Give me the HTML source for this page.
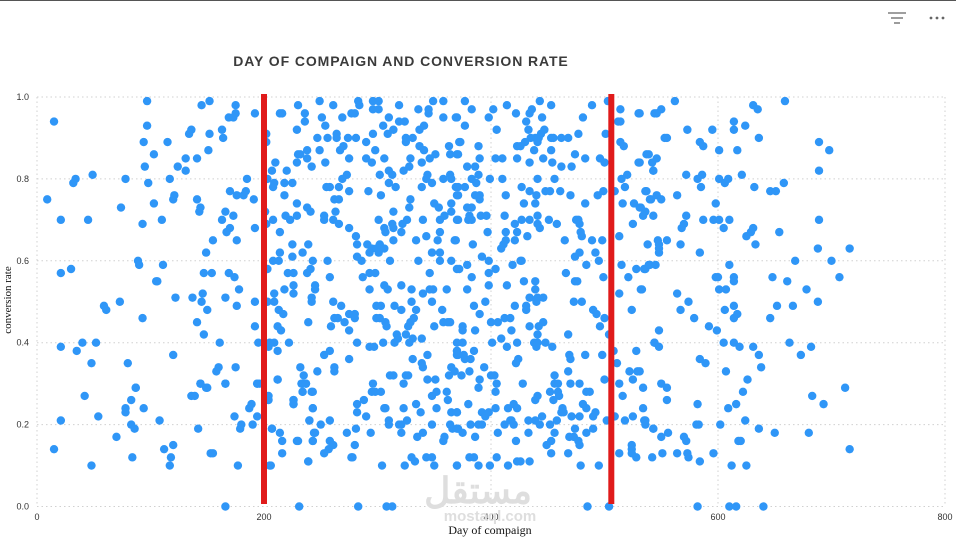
<!DOCTYPE html>
<html><head><meta charset="utf-8"><style>
body{margin:0;width:956px;height:537px;overflow:hidden;background:#fff;font-family:"Liberation Sans",sans-serif;}
svg{position:absolute;left:0;top:0}
</style></head><body>
<svg id="chart" width="956" height="537">
<line x1="0" y1="0.5" x2="956" y2="0.5" stroke="#555" stroke-width="1"/>
<g stroke="#666" stroke-width="1.3">
<line x1="888" y1="13" x2="906" y2="13"/><line x1="891" y1="18" x2="903" y2="18"/><line x1="894" y1="23" x2="900" y2="23"/></g>
<g fill="#666">
<circle cx="931" cy="18" r="1.4"/><circle cx="937" cy="18" r="1.4"/><circle cx="943" cy="18" r="1.4"/></g>
<text x="401" y="66" text-anchor="middle" font-family="Liberation Sans, sans-serif" font-weight="bold" font-size="14" letter-spacing="0.9" fill="#3b3b3b">DAY OF COMPAIGN AND CONVERSION RATE</text>
<g id="grid"></g>
<g id="axes"></g>
<g fill="#dedede">
<text x="478" y="503" text-anchor="middle" font-family="Liberation Sans, 'Noto Sans CJK SC', sans-serif" font-weight="bold" font-size="36">مستقل</text>
<text x="490" y="521" text-anchor="middle" font-size="15" font-weight="bold">mostaql.com</text></g>
<g id="dots"></g>
<g id="refs"></g>
<text x="490" y="534" text-anchor="middle" font-family="Liberation Serif, serif" font-size="12" fill="#111">Day of compaign</text>
<text transform="translate(11,300) rotate(-90)" text-anchor="middle" font-family="Liberation Serif, serif" font-size="11" fill="#111">conversion rate</text>
</svg>
<script>
const xTicks=[0,200,400,600,800];
const yTicks=[0.0,0.2,0.4,0.6,0.8,1.0];
const refDays=[200,506];
const scatterPoints=[
[230,0.98],[249,0.99],[261,0.98],[283,0.99],[284,0.98],[296,0.99],[301,0.99],[296,0.97],[301,0.97],[319,0.98],[336,0.97],[345,0.97],[349,0.99],[358,0.99],[214,0.96],[216,0.96],[236,0.96],[236,0.94],[251,0.95],[269,0.95],[277,0.96],[280,0.96],[254,0.93],[229,0.92],[310,0.95],[319,0.94],[324,0.94],[358,0.95],[345,0.96],[369,0.95],[305,0.93],[314,0.92],[309,0.91],[341,0.93],[337,0.92],[202,0.91],[202,0.89],[247,0.90],[256,0.90],[264,0.91],[264,0.90],[274,0.90],[281,0.90],[296,0.91],[290,0.89],[325,0.90],[325,0.89],[331,0.90],[337,0.88],[341,0.87],[363,0.88],[372,0.89],[230,0.86],[232,0.86],[238,0.87],[249,0.87],[267,0.87],[270,0.88],[298,0.87],[351,0.86],[364,0.86],[370,0.86],[238,0.85],[229,0.84],[254,0.84],[275,0.85],[290,0.85],[295,0.84],[306,0.85],[329,0.85],[339,0.84],[346,0.85],[210,0.84],[242,0.83],[207,0.82],[220,0.82],[328,0.83],[323,0.82],[310,0.82],[313,0.81],[302,0.81],[273,0.81],[269,0.80],[344,0.81],[343,0.80],[348,0.79],[358,0.80],[364,0.81],[365,0.80],[203,0.80],[209,0.79],[218,0.79],[225,0.79],[208,0.78],[310,0.79],[316,0.78],[339,0.78],[369,0.78],[255,0.78],[258,0.78],[266,0.78],[275,0.77],[292,0.77],[218,0.76],[303,0.76],[370,0.76],[262,0.75],[266,0.75],[329,0.75],[229,0.74],[238,0.73],[241,0.72],[328,0.73],[350,0.74],[354,0.73],[365,0.74],[359,0.71],[365,0.72],[263,0.72],[314,0.72],[201,0.72],[202,0.69],[219,0.71],[223,0.70],[229,0.71],[253,0.71],[253,0.70],[261,0.70],[266,0.69],[208,0.70],[301,0.70],[326,0.70],[340,0.70],[355,0.70],[370,0.70],[313,0.69],[314,0.68],[322,0.69],[306,0.68],[307,0.67],[275,0.68],[321,0.67],[355,0.67],[214,0.67],[281,0.66],[343,0.66],[334,0.65],[353,0.65],[314,0.65],[368,0.65],[282,0.64],[225,0.64],[239,0.64],[291,0.64],[295,0.63],[299,0.63],[302,0.64],[306,0.63],[293,0.62],[301,0.62],[234,0.62],[214,0.62],[225,0.61],[282,0.61],[348,0.62],[355,0.62],[208,0.60],[213,0.60],[243,0.60],[256,0.60],[286,0.60],[311,0.60],[336,0.60],[355,0.60],[365,0.60],[203,0.58],[221,0.57],[226,0.57],[238,0.57],[241,0.58],[258,0.56],[287,0.56],[293,0.57],[298,0.57],[346,0.57],[370,0.58],[226,0.54],[218,0.53],[226,0.52],[245,0.54],[245,0.53],[293,0.53],[306,0.54],[309,0.53],[321,0.54],[330,0.53],[340,0.52],[346,0.53],[349,0.53],[361,0.53],[209,0.52],[242,0.51],
[203,0.50],[209,0.50],[242,0.50],[261,0.50],[268,0.49],[299,0.49],[303,0.49],[315,0.49],[321,0.48],[330,0.50],[334,0.48],[348,0.50],[357,0.48],[213,0.48],[217,0.47],[262,0.46],[265,0.46],[259,0.44],[275,0.47],[280,0.47],[280,0.46],[271,0.45],[275,0.43],[239,0.45],[299,0.46],[302,0.46],[307,0.45],[308,0.44],[327,0.44],[329,0.45],[332,0.46],[350,0.44],[358,0.45],[362,0.45],[364,0.45],[212,0.44],[215,0.43],[317,0.42],[318,0.41],[325,0.42],[331,0.41],[328,0.40],[339,0.41],[315,0.40],[305,0.40],[282,0.40],[293,0.39],[297,0.39],[205,0.40],[209,0.40],[204,0.39],[212,0.38],[222,0.40],[253,0.37],[258,0.38],[275,0.36],[344,0.37],[331,0.36],[339,0.35],[340,0.34],[370,0.38],[370,0.37],[365,0.34],[368,0.33],[363,0.32],[232,0.34],[235,0.32],[247,0.33],[262,0.34],[262,0.33],[311,0.32],[314,0.32],[325,0.32],[327,0.32],[212,0.31],[233,0.30],[237,0.30],[296,0.30],[323,0.30],[344,0.31],[351,0.31],[234,0.28],[242,0.28],[295,0.28],[298,0.28],[303,0.28],[348,0.27],[352,0.28],[361,0.28],[362,0.26],[204,0.27],[202,0.26],[226,0.26],[226,0.25],[288,0.26],[282,0.25],[282,0.23],[243,0.24],[306,0.24],[307,0.24],[323,0.24],[334,0.25],[338,0.23],[352,0.24],[365,0.23],[370,0.23],[290,0.22],[240,0.21],[250,0.20],[258,0.21],[281,0.19],[310,0.21],[310,0.20],[319,0.20],[321,0.20],[326,0.21],[348,0.20],[364,0.20],[366,0.19],[370,0.19],[207,0.19],[214,0.18],[216,0.16],[216,0.13],[229,0.16],[243,0.16],[245,0.18],[258,0.16],[261,0.15],[257,0.14],[253,0.13],[273,0.18],[280,0.15],[294,0.18],[321,0.18],[335,0.17],[340,0.18],[359,0.17],[358,0.16],[277,0.12],[278,0.12],[239,0.11],[205,0.10],[304,0.10],[324,0.10],[330,0.12],[333,0.11],[343,0.12],[348,0.12],[350,0.10],[370,0.10],[231,0.0],[283,0.0],[308,0.0],[313,0.0],
[377,0.99],[383,0.97],[370,0.95],[377,0.93],[402,0.97],[398,0.95],[414,0.98],[422,0.96],[434,0.96],[436,0.97],[443,0.99],[453,0.98],[445,0.95],[431,0.94],[405,0.92],[433,0.92],[447,0.92],[444,0.91],[439,0.90],[442,0.90],[435,0.90],[430,0.89],[423,0.88],[426,0.88],[441,0.89],[453,0.90],[455,0.90],[462,0.90],[468,0.90],[477,0.91],[481,0.95],[489,0.98],[503,0.99],[501,0.91],[373,0.89],[389,0.88],[371,0.86],[438,0.87],[453,0.87],[474,0.86],[390,0.85],[404,0.85],[410,0.85],[423,0.85],[434,0.84],[446,0.85],[454,0.84],[462,0.83],[471,0.83],[483,0.85],[496,0.85],[500,0.84],[379,0.83],[386,0.83],[389,0.81],[387,0.79],[383,0.80],[399,0.80],[410,0.80],[441,0.80],[456,0.80],[371,0.78],[377,0.78],[371,0.76],[427,0.78],[434,0.77],[448,0.77],[452,0.77],[461,0.77],[470,0.76],[494,0.76],[499,0.77],[413,0.76],[440,0.76],[386,0.76],[390,0.75],[390,0.76],[429,0.74],[439,0.74],[483,0.74],[379,0.73],[383,0.73],[381,0.71],[383,0.70],[380,0.70],[371,0.70],[391,0.71],[396,0.71],[412,0.71],[427,0.70],[434,0.70],[441,0.71],[441,0.69],[443,0.68],[451,0.70],[458,0.69],[475,0.70],[477,0.70],[478,0.69],[421,0.69],[423,0.67],[413,0.67],[397,0.67],[432,0.66],[421,0.65],[413,0.65],[411,0.64],[409,0.63],[479,0.67],[480,0.66],[465,0.65],[489,0.65],[498,0.65],[369,0.65],[384,0.64],[478,0.62],[474,0.61],[492,0.62],[495,0.60],[484,0.59],[392,0.61],[398,0.60],[419,0.59],[426,0.60],[427,0.60],[379,0.59],[372,0.58],[383,0.56],[398,0.57],[404,0.58],[429,0.55],[439,0.55],[439,0.53],[466,0.57],[474,0.55],[476,0.55],[499,0.56],[398,0.54],[379,0.53],[414,0.54],[434,0.51],[441,0.51],[446,0.51],[473,0.50],[480,0.50],
[514,0.97],[512,0.94],[514,0.94],[530,0.96],[544,0.96],[514,0.89],[517,0.88],[537,0.86],[539,0.86],[530,0.84],[542,0.84],[520,0.81],[515,0.80],[543,0.82],[509,0.77],[518,0.78],[537,0.77],[541,0.75],[516,0.74],[526,0.74],[532,0.73],[536,0.72],[534,0.71],[543,0.71],[525,0.69],[513,0.66],[538,0.64],[515,0.59],[521,0.56],[528,0.58],[536,0.58],[540,0.59],[532,0.53],[513,0.52],
[385,0.49],[395,0.50],[421,0.49],[431,0.49],[431,0.48],[440,0.50],[390,0.47],[400,0.45],[406,0.45],[412,0.46],[417,0.46],[434,0.44],[442,0.44],[446,0.45],[490,0.48],[493,0.47],[500,0.46],[496,0.44],[375,0.44],[375,0.43],[386,0.43],[418,0.43],[441,0.42],[468,0.42],[504,0.42],[370,0.40],[375,0.40],[401,0.40],[409,0.41],[414,0.39],[423,0.40],[438,0.40],[441,0.40],[440,0.39],[448,0.40],[454,0.39],[370,0.38],[371,0.37],[376,0.37],[377,0.36],[385,0.38],[382,0.36],[424,0.36],[422,0.35],[394,0.34],[469,0.37],[470,0.36],[483,0.37],[498,0.37],[508,0.38],[511,0.35],[524,0.48],[528,0.38],[544,0.40],[381,0.33],[374,0.32],[400,0.32],[403,0.32],[468,0.33],[456,0.32],[522,0.33],[529,0.33],[525,0.31],[390,0.31],[405,0.30],[428,0.30],[456,0.30],[459,0.30],[470,0.30],[478,0.30],[500,0.31],[513,0.30],[534,0.29],[389,0.29],[404,0.28],[452,0.28],[459,0.28],[460,0.27],[484,0.28],[487,0.28],[516,0.27],[441,0.27],[439,0.26],[380,0.25],[481,0.25],[484,0.24],[455,0.26],[463,0.24],[462,0.23],[464,0.23],[392,0.23],[395,0.22],[398,0.23],[404,0.24],[415,0.24],[420,0.25],[423,0.24],[492,0.23],[490,0.22],[471,0.22],[478,0.22],[445,0.22],[534,0.24],[525,0.22],[536,0.21],[536,0.20],[518,0.21],[502,0.21],[509,0.22],[370,0.23],[433,0.21],[439,0.21],[443,0.20],[458,0.21],[418,0.21],[412,0.20],[420,0.20],[417,0.21],[382,0.20],[389,0.20],[392,0.20],[371,0.19],[375,0.18],[406,0.18],[433,0.18],[452,0.20],[456,0.18],[474,0.19],[469,0.17],[473,0.17],[477,0.16],[478,0.15],[484,0.18],[490,0.19],[543,0.19],[386,0.17],[422,0.16],[453,0.16],[449,0.15],[524,0.15],[524,0.14],[524,0.13],[528,0.12],[513,0.13],[453,0.13],[468,0.13],[381,0.12],[385,0.12],[405,0.12],[370,0.10],[389,0.10],[399,0.10],[415,0.10],[423,0.11],[426,0.11],[434,0.11],[479,0.10],[495,0.10],[485,0.0],[504,0.0],
[531,0.96],[546,0.96],[550,0.97],[562,0.99],[631,0.98],[635,0.97],[659,0.99],[614,0.94],[614,0.92],[624,0.93],[573,0.92],[595,0.92],[553,0.90],[555,0.90],[636,0.90],[584,0.89],[587,0.88],[601,0.87],[617,0.87],[689,0.89],[698,0.87],[546,0.85],[531,0.84],[543,0.82],[572,0.81],[586,0.81],[582,0.80],[585,0.78],[601,0.80],[606,0.79],[609,0.80],[621,0.81],[632,0.78],[646,0.77],[651,0.77],[658,0.79],[689,0.82],[536,0.77],[540,0.75],[546,0.76],[550,0.75],[564,0.76],[598,0.74],[531,0.73],[572,0.71],[570,0.69],[568,0.68],[587,0.70],[596,0.70],[601,0.70],[610,0.70],[605,0.68],[631,0.68],[629,0.67],[625,0.66],[654,0.67],[633,0.64],[689,0.70],[547,0.65],[548,0.64],[548,0.63],[548,0.62],[555,0.65],[567,0.64],[584,0.62],[688,0.63],[716,0.63],[668,0.60],[700,0.60],[535,0.58],[539,0.59],[545,0.59],[610,0.59],[598,0.56],[600,0.56],[614,0.56],[614,0.55],[648,0.56],[661,0.55],[707,0.56],[533,0.53],[564,0.52],[601,0.53],[607,0.53],[678,0.53],[574,0.50],[688,0.50],
[567,0.48],[579,0.46],[592,0.44],[599,0.43],[606,0.48],[614,0.49],[617,0.47],[614,0.46],[652,0.49],[666,0.49],[646,0.46],[548,0.43],[544,0.40],[548,0.39],[605,0.40],[614,0.40],[619,0.39],[631,0.39],[636,0.37],[638,0.34],[663,0.40],[673,0.37],[682,0.39],[584,0.36],[589,0.35],[607,0.33],[531,0.33],[626,0.31],[622,0.28],[616,0.25],[609,0.24],[550,0.30],[555,0.29],[555,0.26],[582,0.25],[712,0.29],[683,0.27],[693,0.25],[535,0.21],[543,0.19],[550,0.17],[556,0.18],[570,0.17],[572,0.16],[581,0.20],[583,0.20],[602,0.20],[624,0.21],[636,0.19],[650,0.18],[680,0.18],[618,0.16],[620,0.16],[716,0.14],[542,0.12],[551,0.13],[564,0.13],[573,0.13],[574,0.12],[584,0.11],[596,0.13],[612,0.10],[625,0.10],[582,0.0],[610,0.0],[616,0.0],[640,0.0],
[9,0.75],[15,0.94],[21,0.70],[32,0.79],[34,0.80],[45,0.70],[49,0.81],[74,0.73],[78,0.80],[89,0.60],[90,0.59],[93,0.69],[94,0.89],[95,0.83],[97,0.99],[97,0.93],[98,0.79],[103,0.74],[103,0.86],[110,0.70],[111,0.59],[115,0.89],[117,0.80],[120,0.75],[121,0.76],[124,0.83],[131,0.85],[131,0.82],[134,0.91],[136,0.92],[141,0.85],[141,0.75],[143,0.72],[144,0.73],[145,0.98],[147,0.57],[149,0.62],[151,0.87],[152,0.99],[152,0.91],[154,0.57],[155,0.65],[163,0.92],[164,0.90],[163,0.70],[166,0.72],[167,0.67],[170,0.68],[169,0.95],[173,0.95],[175,0.98],[175,0.96],[173,0.71],[169,0.57],[174,0.56],[176,0.65],[170,0.77],[176,0.76],[182,0.76],[184,0.77],[185,0.80],[192,0.68],[192,0.96],[191,0.75],[21,0.57],[30,0.58],[106,0.55],
[105,0.55],[59,0.49],[61,0.48],[73,0.50],[93,0.46],[122,0.51],[137,0.51],[146,0.52],[145,0.50],[150,0.48],[141,0.45],[147,0.42],[178,0.53],[166,0.51],[176,0.49],[192,0.50],[192,0.44],[195,0.40],[161,0.40],[21,0.39],[40,0.40],[52,0.40],[35,0.38],[48,0.35],[80,0.35],[120,0.37],[160,0.34],[158,0.33],[175,0.34],[87,0.29],[144,0.30],[150,0.29],[166,0.30],[194,0.30],
[42,0.27],[21,0.21],[15,0.14],[48,0.10],[54,0.22],[70,0.17],[78,0.24],[78,0.23],[83,0.26],[87,0.29],[83,0.20],[86,0.19],[84,0.12],[94,0.24],[108,0.21],[112,0.14],[117,0.10],[118,0.12],[120,0.15],[136,0.27],[139,0.27],[144,0.30],[149,0.29],[142,0.19],[153,0.13],[155,0.13],[166,0.30],[166,0.0],[174,0.22],[177,0.10],[179,0.19],[180,0.20],[187,0.24],[189,0.25],[190,0.20],[194,0.30],[196,0.30],[194,0.22],[202,0.27],[204,0.26],[207,0.19],[226,0.26],[226,0.25],[230,0.16],[234,0.30],[237,0.30],[234,0.28],[243,0.28],[243,0.24],[240,0.21],[239,0.11],[244,0.18],[243,0.16],[212,0.31],[206,0.10]
];
const days=scatterPoints.map(p=>p[0]);
const rates=scatterPoints.map(p=>p[1]);

const NS='http://www.w3.org/2000/svg';
const X0=37,XS=1.135,Y0=506.5,YS=409.5;
function xScale(d){return X0+d*XS;}
function yScale(r){return Y0-r*YS;}
function mk(tag,attrs,parent){const e=document.createElementNS(NS,tag);for(const k in attrs)e.setAttribute(k,attrs[k]);parent.appendChild(e);return e;}
const grid=document.getElementById('grid'),axes=document.getElementById('axes'),dots=document.getElementById('dots'),refs=document.getElementById('refs');
yTicks.forEach(t=>{
  const y=yScale(t);
  const l=mk('line',{x1:X0,x2:945,y1:y,y2:y,stroke:'#d0d0d0','stroke-width':1,'stroke-dasharray':'1.5,3'},grid);
  
  
  const tx=mk('text',{x:29,y:y+3,'text-anchor':'end','font-size':9,fill:'#333'},axes);
  tx.textContent=t.toFixed(1);
  
  
});
xTicks.forEach(t=>{
  const x=xScale(t);
  const l=mk('line',{x1:x,x2:x,y1:yScale(1),y2:Y0,stroke:'#d0d0d0','stroke-width':1,'stroke-dasharray':'1.5,3'},grid);
  
  
  const tx=mk('text',{x:x,y:520,'text-anchor':'middle','font-size':9,fill:'#333'},axes);
  tx.textContent=String(t);
  
  
});
days.forEach((d,i)=>{
  const c=mk('circle',{cx:xScale(d),cy:yScale(rates[i]),r:4.2,fill:'#2f96f7'},dots);
  
  
});
refDays.forEach(d=>{
  const l=mk('line',{x1:xScale(d),x2:xScale(d),y1:94,y2:504,stroke:'#e01b1b','stroke-width':6},refs);
  
  
});
</script>
</body></html>
